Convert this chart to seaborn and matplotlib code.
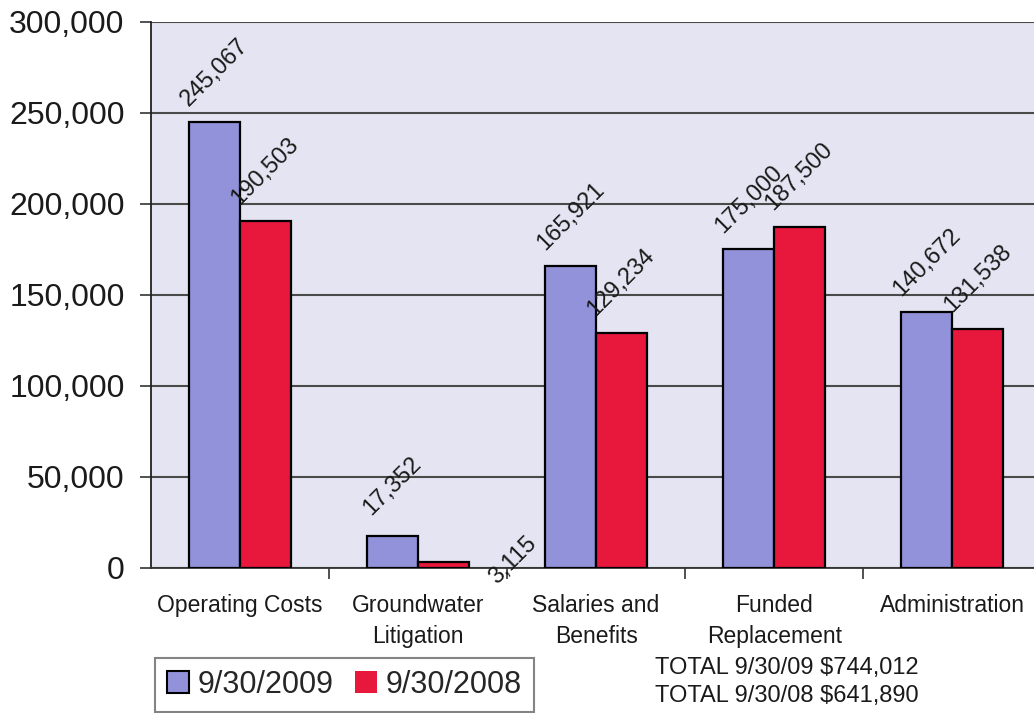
import matplotlib
matplotlib.use("Agg")
import matplotlib.pyplot as plt
import matplotlib.ticker as mticker
from matplotlib.patches import Patch
import seaborn as sns
import pandas as pd

# Expense categories and yearly amounts
categories = ["Operating Costs", "Groundwater\nLitigation", "Salaries and\nBenefits",
              "Funded\nReplacement", "Administration"]
values_2009 = [245067, 17352, 165921, 175000, 140672]
values_2008 = [190503, 3115, 129234, 187500, 131538]
series_names = ["9/30/2009", "9/30/2008"]
y_ticks = [0, 50000, 100000, 150000, 200000, 250000, 300000]
totals_text = ["TOTAL 9/30/09 $744,012", "TOTAL 9/30/08 $641,890"]

blue = "#9292da"
red = "#e8173c"
bg = "#e5e4f2"

df = pd.DataFrame({
    "Category": categories * 2,
    "Amount": values_2009 + values_2008,
    "Period": [series_names[0]] * len(categories) + [series_names[1]] * len(categories),
})

sns.set_style("white")
plt.rcParams["font.family"] = ["Liberation Sans", "DejaVu Sans"]

fig = plt.figure(figsize=(10.34, 7.13), dpi=100)
ax = fig.add_axes([0.146, 0.2034, 0.861, 0.7658])
ax.set_facecolor(bg)

sns.barplot(data=df, x="Category", y="Amount", hue="Period", order=categories,
            hue_order=series_names, palette=[blue, red], width=0.57, gap=0,
            edgecolor="black", linewidth=1.6, saturation=1, errorbar=None,
            legend=False, ax=ax, zorder=3)

ax.set_xlim(-0.5, len(categories) - 0.5)
ax.set_ylim(0, 300000)
ax.set_yticks(y_ticks)
ax.yaxis.set_major_formatter(mticker.FuncFormatter(lambda v, p: f"{int(v):,}"))
ax.tick_params(axis="y", labelsize=23, length=8, width=1.2, color="#333333",
               direction="out", left=True, pad=11, labelcolor="#1a1a1a")
ax.grid(axis="y", color="#4a4a4a", linewidth=1.5, zorder=1)
ax.set_axisbelow(True)

ax.set_xticks(range(len(categories)))
ax.set_xticklabels(categories, fontsize=16.5, linespacing=1.45, color="#1a1a1a")
ax.tick_params(axis="x", which="major", length=0, pad=19)
ax.set_xticks([i + 0.5 for i in range(len(categories) - 1)], minor=True)
ax.tick_params(axis="x", which="minor", length=8, width=1.2, color="#333333",
               direction="out", bottom=True)

ax.set_xlabel("")
ax.set_ylabel("")
for side in ["top", "right"]:
    ax.spines[side].set_visible(False)
ax.spines["left"].set_color("#222222")
ax.spines["left"].set_linewidth(1.3)
ax.spines["bottom"].set_color("#333333")
ax.spines["bottom"].set_linewidth(1.3)

# Rotated value labels above each bar
for container, vals in zip(ax.containers, [values_2009, values_2008]):
    for bar, v in zip(container, vals):
        cx = bar.get_x() + bar.get_width() / 2
        offset = (0, 50)
        if v == 3115:
            offset = (70, 2)
        ax.annotate(f"{v:,}", xy=(cx, v), xytext=offset, textcoords="offset pixels",
                    rotation=45, rotation_mode="anchor", ha="center", va="center",
                    fontsize=17, color="#1a1a1a", zorder=5, annotation_clip=False)

# Legend with square swatches
handles = [Patch(facecolor=blue, edgecolor="black", linewidth=1.5),
           Patch(facecolor=red, edgecolor=red, linewidth=0)]
leg = fig.legend(handles, series_names, loc="lower left",
                 bbox_to_anchor=(155 / 1034, 1 - 712 / 713), ncol=2, fontsize=22,
                 frameon=True, fancybox=False, handlelength=0.7, handleheight=0.7,
                 handletextpad=0.3, columnspacing=0.7, borderpad=0.4,
                 borderaxespad=0)
leg.get_frame().set_edgecolor("#666666")
leg.get_frame().set_linewidth(1.5)

fig.text(655 / 1034, 1 - 682 / 713, "\n".join(totals_text), fontsize=17,
         ha="left", va="center", linespacing=1.38, color="#1a1a1a")

fig.savefig("out.png", dpi=100, facecolor="white")
